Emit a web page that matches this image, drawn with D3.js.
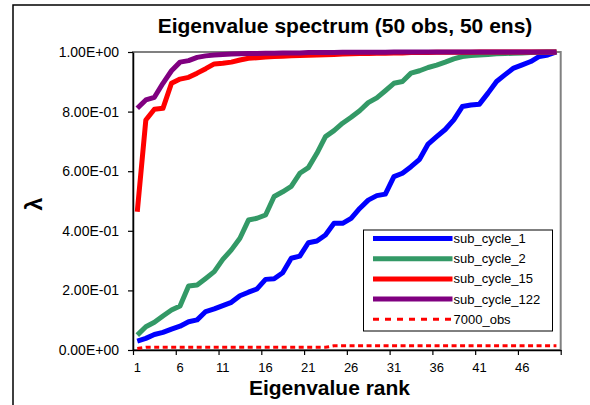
<!DOCTYPE html>
<html>
<head>
<meta charset="utf-8">
<script src="https://cdn.jsdelivr.net/npm/d3@7"></script>
<style>
  html, body { margin: 0; padding: 0; background: #fff; }
  svg { display: block; font-family: "Liberation Sans", Arial, sans-serif; }
</style>
</head>
<body>
<svg id="chart" width="590" height="405"></svg>
<script>
/* ---------- data ---------- */
const ranks = d3.range(1, 51);
const xTickLabels = [1, 6, 11, 16, 21, 26, 31, 36, 41, 46];
const yTicks = [0, 0.2, 0.4, 0.6, 0.8, 1.0];

const subCycle1 = [0.030, 0.039, 0.052, 0.059, 0.070, 0.080, 0.095, 0.101, 0.129, 0.138,
  0.149, 0.160, 0.182, 0.194, 0.205, 0.237, 0.239, 0.259, 0.308, 0.315,
  0.360, 0.366, 0.386, 0.425, 0.425, 0.442, 0.475, 0.503, 0.518, 0.523,
  0.582, 0.593, 0.615, 0.640, 0.691, 0.716, 0.740, 0.772, 0.817, 0.822,
  0.825, 0.862, 0.901, 0.924, 0.946, 0.957, 0.968, 0.985, 0.990, 1.000];

const subCycle2 = [0.050, 0.078, 0.093, 0.114, 0.134, 0.148, 0.215, 0.218, 0.240, 0.263,
  0.304, 0.336, 0.375, 0.436, 0.442, 0.453, 0.515, 0.531, 0.549, 0.593,
  0.612, 0.660, 0.716, 0.736, 0.761, 0.781, 0.803, 0.830, 0.846, 0.870,
  0.895, 0.901, 0.929, 0.937, 0.948, 0.956, 0.966, 0.977, 0.985, 0.988,
  0.990, 0.992, 0.994, 0.995, 0.996, 0.997, 0.998, 0.999, 1.000, 1.000];

const subCycle15 = [0.464, 0.772, 0.808, 0.811, 0.895, 0.909, 0.915, 0.929, 0.944, 0.960,
  0.962, 0.966, 0.973, 0.979, 0.981, 0.983, 0.985, 0.986, 0.987, 0.988,
  0.989, 0.990, 0.991, 0.992, 0.993, 0.994, 0.995, 0.995, 0.996, 0.996,
  0.997, 0.997, 0.998, 0.998, 0.998, 0.999, 0.999, 0.999, 0.999, 0.999,
  1.000, 1.000, 1.000, 1.000, 1.000, 1.000, 1.000, 1.000, 1.000, 1.000];

const subCycle122 = [0.811, 0.839, 0.848, 0.895, 0.937, 0.966, 0.971, 0.982, 0.987, 0.990,
  0.992, 0.993, 0.994, 0.995, 0.995, 0.996, 0.996, 0.997, 0.997, 0.997,
  0.998, 0.998, 0.998, 0.998, 0.999, 0.999, 0.999, 0.999, 0.999, 0.999,
  1.000, 1.000, 1.000, 1.000, 1.000, 1.000, 1.000, 1.000, 1.000, 1.000,
  1.000, 1.000, 1.000, 1.000, 1.000, 1.000, 1.000, 1.000, 1.000, 1.000];

const obs7000 = [0.005, 0.009, 0.009, 0.009, 0.009, 0.009, 0.009, 0.009, 0.009, 0.009,
  0.009, 0.009, 0.009, 0.009, 0.009, 0.009, 0.009, 0.009, 0.009, 0.009,
  0.009, 0.009, 0.009, 0.014, 0.014, 0.014, 0.014, 0.014, 0.014, 0.014,
  0.014, 0.014, 0.014, 0.014, 0.014, 0.014, 0.014, 0.014, 0.014, 0.014,
  0.014, 0.014, 0.014, 0.014, 0.014, 0.014, 0.014, 0.014, 0.014, 0.014];

const seriesNames = ["sub_cycle_1", "sub_cycle_2", "sub_cycle_15", "sub_cycle_122", "7000_obs"];
const seriesValues = [subCycle1, subCycle2, subCycle15, subCycle122, obs7000];

/* ---------- styles ---------- */
const colors = ["#0000ff", "#339966", "#ff0000", "#800080", "#ff0000"];
const widths = [5, 5, 5, 5, 3];
const dashes = [null, null, null, null, "5,3.5"];

const svg = d3.select("#chart");
const plot = { left: 133, right: 560.7, top: 52, bottom: 350 };

/* outer chart frame */
svg.append("rect")
  .attr("x", 13).attr("y", 5)
  .attr("width", 600).attr("height", 420)
  .attr("fill", "#fff").attr("stroke", "#000").attr("stroke-width", 1.5);

/* ---------- scales ---------- */
const x = d3.scaleBand().domain(ranks).range([plot.left, plot.right]).padding(0);
const xEdges = d3.scaleLinear().domain([0, 50]).range([plot.left, plot.right]);
const y = d3.scaleLinear().domain([0, 1]).range([plot.bottom, plot.top]);
const cx = (r) => x(r) + x.bandwidth() / 2;

const sci = (v) => {
  const [m, e] = v.toExponential(2).split("e");
  const sign = e[0] === "-" ? "-" : "+";
  const exp = String(Math.abs(+e)).padStart(2, "0");
  return m + "E" + sign + exp;
};

/* plot area border (grey, Excel style) */
svg.append("rect")
  .attr("x", plot.left).attr("y", plot.top)
  .attr("width", plot.right - plot.left).attr("height", plot.bottom - plot.top)
  .attr("fill", "none").attr("stroke", "#808080").attr("stroke-width", 2);

/* ---------- axes ---------- */
const yAxis = svg.append("g")
  .attr("transform", `translate(${plot.left},0)`)
  .call(d3.axisLeft(y).tickValues(yTicks).tickFormat(sci).tickSize(5).tickSizeOuter(0).tickPadding(9));
yAxis.select(".domain").attr("stroke", "#000").attr("stroke-width", 1.5);
yAxis.selectAll(".tick line").attr("stroke", "#000").attr("stroke-width", 1.2);
yAxis.selectAll("text").attr("font-size", 14).attr("fill", "#000")
  .style("font-family", "'Liberation Sans', Arial, sans-serif");

const xTicks = svg.append("g")
  .attr("transform", `translate(0,${plot.bottom})`)
  .call(d3.axisBottom(xEdges).tickValues(d3.range(0, 51, 5)).tickFormat("").tickSize(5).tickSizeOuter(0));
xTicks.select(".domain").attr("stroke", "#000").attr("stroke-width", 1.5);
xTicks.selectAll(".tick line").attr("stroke", "#000").attr("stroke-width", 1.2);

const xLabels = svg.append("g")
  .attr("transform", `translate(0,${plot.bottom})`)
  .call(d3.axisBottom(x).tickValues(xTickLabels).tickSize(0));
xLabels.select(".domain").remove();
xLabels.selectAll("text").attr("y", 21.5).attr("dy", 0)
  .attr("font-size", 13).attr("fill", "#000")
  .style("font-family", "'Liberation Sans', Arial, sans-serif");

/* ---------- series ---------- */
const line = d3.line().x((d, i) => cx(ranks[i])).y((d) => y(d));

seriesValues.forEach((vals, k) => {
  svg.append("path")
    .datum(vals)
    .attr("d", line)
    .attr("fill", "none")
    .attr("stroke", colors[k])
    .attr("stroke-width", widths[k])
    .attr("stroke-linejoin", "round")
    .attr("stroke-dasharray", dashes[k]);
});

/* ---------- titles ---------- */
svg.append("text")
  .attr("x", 345).attr("y", 33)
  .attr("text-anchor", "middle")
  .attr("font-size", 21).attr("font-weight", "bold")
  .text("Eigenvalue spectrum (50 obs, 50 ens)");

svg.append("text")
  .attr("x", 329.5).attr("y", 394.5)
  .attr("text-anchor", "middle")
  .attr("font-size", 21).attr("font-weight", "bold")
  .text("Eigenvalue rank");

svg.append("text")
  .attr("transform", "translate(42,204) rotate(-90)")
  .attr("text-anchor", "middle")
  .attr("font-size", 23).attr("font-weight", "bold")
  .text("λ");

/* ---------- legend ---------- */
const legend = svg.append("g");
legend.append("rect")
  .attr("x", 363.5).attr("y", 230)
  .attr("width", 189).attr("height", 101)
  .attr("fill", "#fff").attr("stroke", "#000").attr("stroke-width", 1);

const legendRow = d3.scaleLinear().domain([0, 4]).range([238.5, 319.3]);
seriesNames.forEach((name, k) => {
  const ly = legendRow(k);
  legend.append("line")
    .attr("x1", 373).attr("x2", 452.5)
    .attr("y1", ly).attr("y2", ly)
    .attr("stroke", colors[k])
    .attr("stroke-width", widths[k])
    .attr("stroke-dasharray", k === 4 ? "6,6" : null);
  legend.append("text")
    .attr("x", 453.5).attr("y", ly + 4.5)
    .attr("font-size", 13)
    .text(name);
});
</script>
</body>
</html>
